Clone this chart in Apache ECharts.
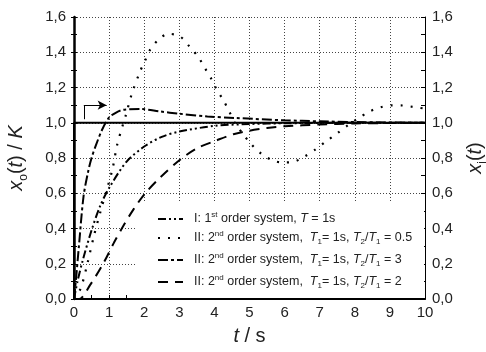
<!DOCTYPE html>
<html>
<head>
<meta charset="utf-8">
<script src="https://cdn.jsdelivr.net/npm/echarts@6/dist/echarts.min.js"></script>
<style>
  html, body { margin: 0; padding: 0; background: #fff; }
  #chart { width: 486px; height: 352px; }
</style>
</head>
<body>
<div id="chart"></div>
<script>
// values
var names = [
    'I: 1st order system, T = 1s',
    'II: 2nd order system, T1 = 1s, T2/T1 = 0.5',
    'II: 2nd order system, T1 = 1s, T2/T1 = 3',
    'II: 2nd order system, T1 = 1s, T2/T1 = 2'
];

var tFirst = [0, 0.1, 0.25, 0.5, 0.75, 1, 1.5, 2, 2.5, 3, 4, 5, 6, 7, 8, 10];
var xFirst = [0, 0.1, 0.22, 0.39, 0.53, 0.63, 0.78, 0.865, 0.92, 0.95, 0.982, 0.993, 0.997, 0.999, 1.0, 1.0];

var tHalf = [0, 0.19, 0.38, 0.57, 0.76, 0.95, 1.1, 1.23, 1.38, 1.48, 1.64, 1.88, 2.02, 2.17, 2.4, 2.69, 3.02, 3.3, 3.55, 3.73, 3.91, 4.06, 4.25, 4.42, 4.59, 4.8, 5.04, 5.33, 5.66, 5.96, 6.28, 6.58, 6.87, 7.18, 7.5, 7.8, 8.12, 8.42, 8.72, 9.06, 9.36, 9.66, 10];
var xHalf = [0, 0.06, 0.2, 0.36, 0.5, 0.63, 0.74, 0.875, 0.98, 1.045, 1.16, 1.29, 1.35, 1.415, 1.47, 1.505, 1.49, 1.43, 1.37, 1.31, 1.25, 1.19, 1.13, 1.065, 0.997, 0.94, 0.88, 0.825, 0.786, 0.775, 0.78, 0.81, 0.847, 0.894, 0.94, 0.985, 1.028, 1.064, 1.087, 1.099, 1.098, 1.09, 1.08];

var tThree = [0, 0.06, 0.14, 0.27, 0.4, 0.5, 0.62, 0.8, 1.0, 1.2, 1.4, 1.9, 2.45, 3.0, 3.8, 4.6, 6.0, 7.0, 8.0, 10];
var xThree = [0, 0.12, 0.3, 0.58, 0.72, 0.8, 0.87, 0.96, 1.03, 1.058, 1.073, 1.078, 1.064, 1.051, 1.036, 1.027, 1.014, 1.008, 1.004, 1.0];

var tTwo = [0, 0.15, 0.46, 0.83, 1.14, 1.42, 1.7, 2.03, 2.46, 3.02, 3.5, 4.06, 4.54, 5.0, 5.5, 6, 7, 8, 10];
var xTwo = [0, 0.0, 0.08, 0.2, 0.32, 0.42, 0.51, 0.6, 0.69, 0.79, 0.855, 0.9, 0.935, 0.955, 0.97, 0.98, 0.99, 0.996, 1.0];

// step input x_i(t)
var tStep = [0, 0, 10];
var xStep = [0, 1, 1];

// little arrow marking the input
var arrowV = [[0.28, 1.02], [0.28, 1.1]];
var arrowH = [[0.28, 1.1], [0.93, 1.1]];

var legendText = [
    'I: 1{sup|st} order system, {it|T} = 1s',
    'II: 2{sup|nd} order system,  {it|T}{sub|1}= 1s, {it|T}{sub|2}/{it|T}{sub|1} = 0.5',
    'II: 2{sup|nd} order system,  {it|T}{sub|1}= 1s, {it|T}{sub|2}/{it|T}{sub|1} = 3',
    'II: 2{sup|nd} order system,  {it|T}{sub|1}= 1s, {it|T}{sub|2}/{it|T}{sub|1} = 2'
];
var legendTops = [211, 230, 252, 274];

function zip(a, b) {
    return a.map(function (v, i) { return [v, b[i]]; });
}

var chart = echarts.init(document.getElementById('chart'));
var font = 'Liberation Sans, Arial, sans-serif';

var rich = {
    sup: { fontSize: 8, verticalAlign: 'top', lineHeight: 16, color: '#222', fontFamily: font },
    sub: { fontSize: 8, verticalAlign: 'bottom', lineHeight: 14, color: '#222', fontFamily: font },
    it: { fontStyle: 'italic', fontSize: 12.5, color: '#222', fontFamily: font }
};

var legends = names.map(function (n, i) {
    return {
        data: [n],
        orient: 'vertical',
        left: 157,
        top: legendTops[i],
        padding: 0,
        itemWidth: 25,
        itemHeight: 14,
        itemGap: 10,
        selectedMode: false,
        itemStyle: { opacity: 0 },
        lineStyle: { color: '#000', opacity: 1 },
        formatter: function () { return legendText[i]; },
        textStyle: { fontSize: 12.5, color: '#222', fontFamily: font, padding: [0, 0, 0, 6], rich: rich }
    };
});

function fmt(v) { return v.toFixed(1).replace('.', ','); }

var gridLine = { show: true, lineStyle: { color: '#444', type: [1, 2], width: 1 } };

var option = {
    animation: false,
    backgroundColor: '#fff',
    grid: { left: 74, right: 61, top: 17, bottom: 53, outerBoundsMode: 'none', containLabel: false },
    legend: legends,
    graphic: [{
        type: 'rect', z: 1,
        shape: { x: 137, y: 203, width: 287, height: 95 },
        style: { fill: '#fff' }
    }],
    xAxis: [{
        type: 'value', min: 0, max: 10, interval: 1,
        name: '{it|t} / s', nameLocation: 'middle', nameGap: 27,
        nameTextStyle: {
            fontSize: 20, color: '#222', fontFamily: font,
            rich: { it: { fontStyle: 'italic', fontSize: 20, fontFamily: font, color: '#222' } }
        },
        axisLine: { lineStyle: { color: '#000', width: 2 } },
        axisTick: { inside: true, length: 4, lineStyle: { color: '#000' } },
        minorTick: { show: true, splitNumber: 2, length: 4, lineStyle: { color: '#000' } },
        axisLabel: { margin: 6, fontSize: 15, color: '#222', fontFamily: font },
        splitLine: gridLine
    }, {
        type: 'value', min: 0, max: 10, position: 'top',
        axisLine: { show: true, lineStyle: { color: '#000', width: 1 } },
        axisTick: { show: false }, axisLabel: { show: false }, splitLine: { show: false }
    }],
    yAxis: [{
        type: 'value', min: 0, max: 1.6, interval: 0.2, position: 'left',
        name: '{it|x}{sub|o}({it|t}) / {it|K}', nameLocation: 'middle', nameGap: 44, nameRotate: 90,
        nameTextStyle: {
            fontSize: 20, color: '#222', fontFamily: font,
            rich: {
                it: { fontStyle: 'italic', fontSize: 20, fontFamily: font, color: '#222' },
                sub: { fontSize: 12, fontFamily: font, color: '#222', verticalAlign: 'bottom', lineHeight: 28 }
            }
        },
        axisLine: { lineStyle: { color: '#000', width: 2.5 } },
        axisTick: { length: 3, lineStyle: { color: '#000' } },
        minorTick: { show: true, splitNumber: 2, length: 3, lineStyle: { color: '#000' } },
        axisLabel: { margin: 8, fontSize: 15, color: '#222', fontFamily: font, formatter: fmt },
        splitLine: gridLine
    }, {
        type: 'value', min: 0, max: 1.6, interval: 0.2, position: 'left',
        axisLine: { show: false },
        axisTick: { inside: true, length: 3, lineStyle: { color: '#000' } },
        minorTick: { show: true, splitNumber: 2, length: 3, lineStyle: { color: '#000' } },
        axisLabel: { show: false }, splitLine: { show: false }
    }, {
        type: 'value', min: 0, max: 1.6, interval: 0.2, position: 'right',
        name: '{it|x}{sub|i}({it|t})', nameLocation: 'middle', nameGap: 36, nameRotate: 90,
        nameTextStyle: {
            fontSize: 20, color: '#222', fontFamily: font,
            rich: {
                it: { fontStyle: 'italic', fontSize: 20, fontFamily: font, color: '#222' },
                sub: { fontSize: 12, fontFamily: font, color: '#222', verticalAlign: 'bottom', lineHeight: 28 }
            }
        },
        axisLine: { show: true, lineStyle: { color: '#000', width: 1 } },
        axisTick: { inside: true, length: 4, lineStyle: { color: '#000' } },
        minorTick: { show: true, splitNumber: 2, length: 4, lineStyle: { color: '#000' } },
        axisLabel: { margin: 7, fontSize: 15, color: '#222', fontFamily: font, formatter: fmt },
        splitLine: { show: false }
    }],
    series: [
        {
            name: names[0], type: 'line', symbol: 'none', smooth: 0.3,
            itemStyle: { color: '#000' },
            lineStyle: { color: '#000', width: 2, type: [8, 3, 2, 3, 2, 3] },
            data: zip(tFirst, xFirst), z: 3
        },
        {
            name: names[1], type: 'line', symbol: 'none', smooth: 0.3,
            itemStyle: { color: '#000' },
            lineStyle: { color: '#000', width: 2.2, type: [2, 8] },
            data: zip(tHalf, xHalf), z: 3
        },
        {
            name: names[2], type: 'line', symbol: 'none', smooth: 0.3,
            itemStyle: { color: '#000' },
            lineStyle: { color: '#000', width: 2, type: [10, 3, 3, 3] },
            data: zip(tThree, xThree), z: 3
        },
        {
            name: names[3], type: 'line', symbol: 'none', smooth: 0.3,
            itemStyle: { color: '#000' },
            lineStyle: { color: '#000', width: 2, type: [10, 7] },
            data: zip(tTwo, xTwo), z: 3
        },
        {
            name: 'input', type: 'line', symbol: 'none',
            itemStyle: { color: '#000' },
            lineStyle: { color: '#000', width: 2 },
            data: zip(tStep, xStep), z: 4,
            markLine: {
                silent: true, animation: false,
                label: { show: false },
                lineStyle: { color: '#000', width: 1, type: 'solid' },
                symbol: ['none', 'none'],
                data: [
                    [{ coord: arrowV[0] }, { coord: arrowV[1] }],
                    [{ coord: arrowH[0], symbol: 'none' }, { coord: arrowH[1], symbol: 'arrow', symbolSize: [7, 9] }]
                ]
            }
        }
    ]
};

chart.setOption(option);
</script>
</body>
</html>
